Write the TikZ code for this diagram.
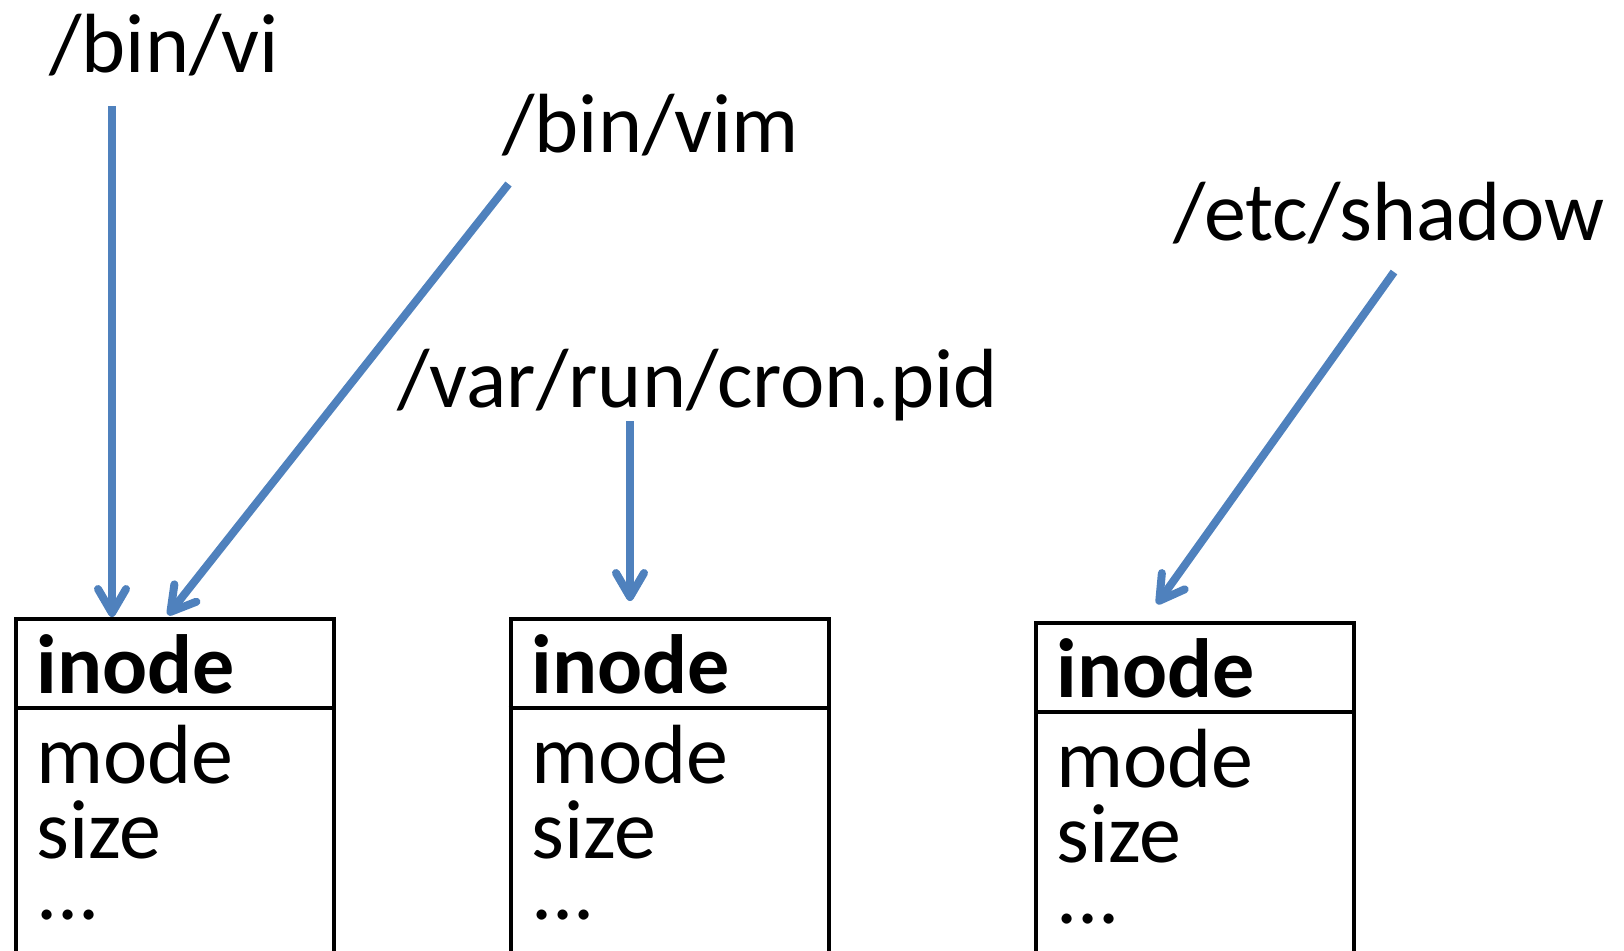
\documentclass[tikz,border=0pt]{standalone}
\usepackage{fontspec}
\setmainfont{Carlito}
\usetikzlibrary{arrows.meta}
\definecolor{ptrblue}{HTML}{4F81BD}
\begin{document}
\begin{tikzpicture}[x=0.5pt,y=-0.5pt,
  fname/.style={font=\fontsize{42}{50}\selectfont, anchor=base west, inner sep=0pt},
  field/.style={font=\fontsize{42}{50}\selectfont, anchor=base west, inner sep=0pt},
  head/.style={field, font=\fontsize{42}{50}\selectfont\bfseries},
  inodebox/.style={draw, line width=2.2pt, minimum width=159pt, minimum height=180pt,
                   anchor=north west, inner sep=0pt},
  divider/.style={line width=2.2pt},
  ptr/.style={ptrblue, line width=4pt,
              -{Straight Barb[length=12pt,width=14pt,round]}}]
\clip (0,0) rectangle (1624,950);

% file names
\node[fname] (vi)     at (49,72.5)  {/bin/vi};
\node[fname] (vim)    at (502,152)  {/bin/vim};
\node[fname] (cron)   at (397,407)  {/var/run/cron.pid};
\node[fname] (shadow) at (1173,240) {/etc/shadow};

% inodes
\node[inodebox] (b1) at (14,617) {};
\draw[divider] ([yshift=-45.5pt]b1.north west) -- ([yshift=-45.5pt]b1.north east);
\node[head]  (b1h) at (36,693) {inode};
\node[field] (b1m) at (36,783) {mode};
\node[field] (b1s) at (36,858) {size};
\node[field] (b1d) at (36,919) {...};

\node[inodebox] (b2) at (508.5,617) {};
\draw[divider] ([yshift=-45.5pt]b2.north west) -- ([yshift=-45.5pt]b2.north east);
\node[head]  (b2h) at (531,693) {inode};
\node[field] (b2m) at (531,783) {mode};
\node[field] (b2s) at (531,858) {size};
\node[field] (b2d) at (531,919) {...};

\node[inodebox] (b3) at (1034,621) {};
\draw[divider] ([yshift=-45.5pt]b3.north west) -- ([yshift=-45.5pt]b3.north east);
\node[head]  (b3h) at (1056,697) {inode};
\node[field] (b3m) at (1056,787) {mode};
\node[field] (b3s) at (1056,862) {size};
\node[field] (b3d) at (1056,923) {...};

% directory entries pointing at inodes
\coordinate (vi-src)     at (112,106);
\coordinate (vim-src)    at (508.5,184);
\coordinate (vim-dst)    at (168,615);
\coordinate (cron-src)   at (630,421);
\coordinate (cron-dst)   at (630,601);
\coordinate (shadow-src) at (1394,272);
\coordinate (shadow-dst) at (1157,604);

\draw[ptr] (vi-src) -- (vi-src |- b1.north);
\draw[ptr] (vim-src) -- (vim-dst);
\draw[ptr] (cron-src) -- (cron-dst);
\draw[ptr] (shadow-src) -- (shadow-dst);
\end{tikzpicture}
\end{document}
